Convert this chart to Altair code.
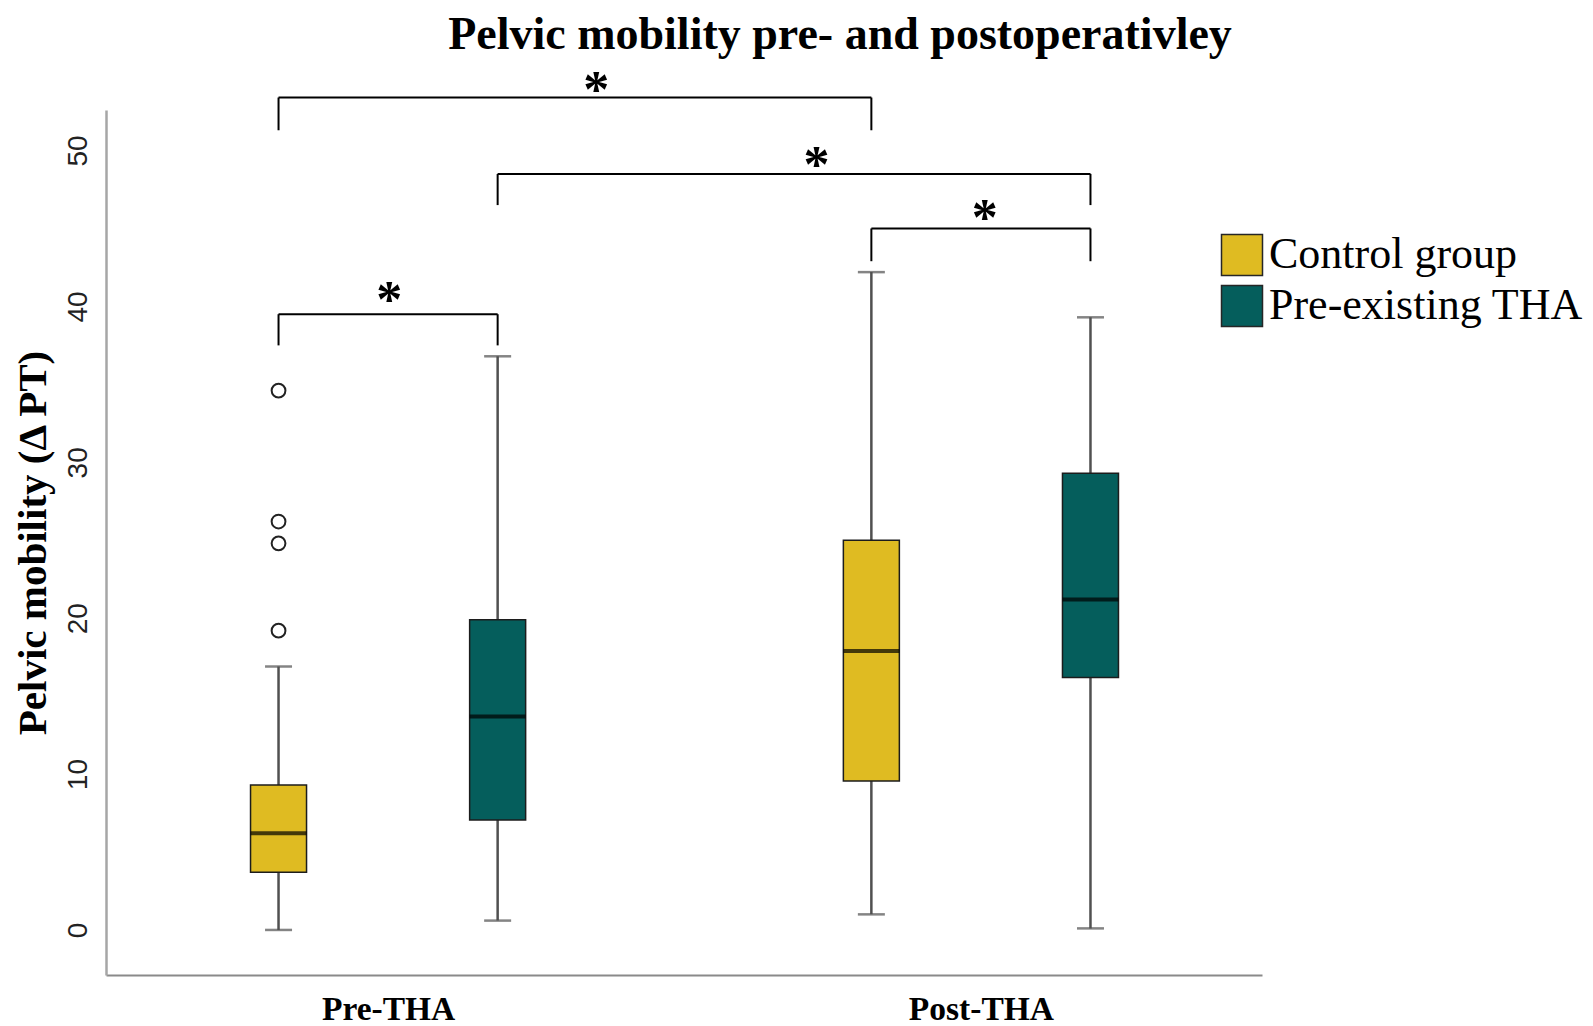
import altair as alt
import pandas as pd

# ---------------- data ----------------
groups = ["Pre-THA", "Post-THA"]
series = ["Control group", "Pre-existing THA"]
colors = ["#DFBB22", "#055E5C"]

box_group = ["Pre-THA", "Pre-THA", "Post-THA", "Post-THA"]
box_series = ["Control group", "Pre-existing THA", "Control group", "Pre-existing THA"]
whisk_low = [0.0, 0.6, 1.0, 0.1]
q1 = [3.7, 7.05, 9.55, 16.2]
median = [6.2, 13.7, 17.9, 21.2]
q3 = [9.3, 19.9, 25.0, 29.3]
whisk_high = [16.9, 36.8, 42.2, 39.3]

out_group = ["Pre-THA", "Pre-THA", "Pre-THA", "Pre-THA"]
out_series = ["Control group"] * 4
out_value = [19.2, 24.8, 26.2, 34.6]

br_from_group = ["Pre-THA", "Pre-THA", "Post-THA", "Pre-THA"]
br_from_series = ["Control group", "Pre-existing THA", "Control group", "Control group"]
br_to_group = ["Post-THA", "Post-THA", "Post-THA", "Pre-THA"]
br_to_series = ["Control group", "Pre-existing THA", "Pre-existing THA", "Pre-existing THA"]
br_top = [53.4, 48.5, 45.0, 39.5]
br_leg = [51.3, 46.5, 42.9, 37.5]
star_y = [54.4, 49.6, 46.2, 40.9]
star_frac = [0.536, 0.538, 0.518, 0.505]
star_text = ["*", "*", "*", "*"]

title_text = "Pelvic mobility pre- and postoperativley"
y_title = "Pelvic mobility (Δ PT)"
y_ticks = [0, 10, 20, 30, 40, 50]

# ---------------- tables ----------------
boxes = pd.DataFrame({
    "group": box_group, "series": box_series,
    "lo": whisk_low, "q1": q1, "med": median, "q3": q3, "hi": whisk_high,
})
outliers = pd.DataFrame({"group": out_group, "series": out_series, "value": out_value})
brackets = pd.DataFrame({
    "g1": br_from_group, "s1": br_from_series,
    "g2": br_to_group, "s2": br_to_series,
    "top": br_top, "leg": br_leg, "sy": star_y, "frac": star_frac, "star": star_text,
})

OFF = 0.1848  # half distance between the two boxes of a group (in group units)


def pos_expr(g, s):
    return (f"indexof({groups!r}, datum.{g}) + "
            f"(indexof({series!r}, datum.{s}) - 0.5) * {2 * OFF}")


x_scale = alt.Scale(domain=[-0.4674, 1.4657], nice=False, zero=False)
y_scale = alt.Scale(domain=[-2.89, 52.6], nice=False, zero=False)
color_scale = alt.Scale(domain=series, range=colors)

label_expr = " : ".join(
    [f"datum.value == {i} ? '{g}'" for i, g in enumerate(groups)] + ["''"]
)

x_axis = alt.Axis(
    values=list(range(len(groups))), labelExpr=label_expr, title=None,
    ticks=False, grid=False, domainColor="#8a8a8a", domainWidth=2,
    labelFont="Liberation Serif", labelFontWeight="bold", labelFontSize=33.5,
    labelColor="#000", labelPadding=18,
)
y_axis = alt.Axis(
    values=y_ticks, title=y_title, ticks=False, grid=False,
    domainColor="#a6a6a6", domainWidth=2.5,
    labelFont="Liberation Sans", labelFontSize=28, labelColor="#222",
    labelAngle=-90, labelPadding=14,
    titleFont="Liberation Serif", titleFontWeight="bold", titleFontSize=41,
    titleColor="#000", titlePadding=10,
)

base_box = alt.Chart(boxes).transform_calculate(xpos=pos_expr("group", "series"))

whiskers = base_box.mark_rule(color="#505050", strokeWidth=2.5).encode(
    x=alt.X("xpos:Q", scale=x_scale, axis=x_axis),
    y=alt.Y("lo:Q", scale=y_scale, axis=y_axis),
    y2="hi:Q",
)
caps_lo = base_box.mark_tick(orient="horizontal", size=27, thickness=2.5, color="#505050").encode(
    x="xpos:Q", y="lo:Q")
caps_hi = base_box.mark_tick(orient="horizontal", size=27, thickness=2.5, color="#505050").encode(
    x="xpos:Q", y="hi:Q")
bars = base_box.mark_bar(size=56, stroke="#1c1c1c", strokeWidth=1.5).encode(
    x="xpos:Q", y="q1:Q", y2="q3:Q",
    color=alt.Color("series:N", scale=color_scale, title=None,
                    legend=alt.Legend(
                        orient="none", legendX=1114, legendY=123,
                        symbolType="square", symbolSize=1681,
                        symbolStrokeColor="#262626", symbolStrokeWidth=1.5,
                        symbolOpacity=1,
                        labelFont="Liberation Serif", labelFontSize=44,
                        labelColor="#000", labelOffset=5, rowPadding=3,
                        labelLimit=600,
                    )),
)
medians = base_box.mark_tick(orient="horizontal", size=56, thickness=4, color="#000").encode(
    x="xpos:Q", y="med:Q")

points = alt.Chart(outliers).transform_calculate(
    xpos=pos_expr("group", "series")
).mark_point(shape="circle", filled=False, size=190, color="#222", strokeWidth=2, opacity=1).encode(
    x="xpos:Q", y="value:Q")

base_br = alt.Chart(brackets).transform_calculate(
    x1=pos_expr("g1", "s1"), x2=pos_expr("g2", "s2")
).transform_calculate(xs="datum.x1 + (datum.x2 - datum.x1) * datum.frac")

br_h = base_br.mark_rule(color="#000", strokeWidth=2).encode(
    x="x1:Q", x2="x2:Q", y="top:Q")
br_l = base_br.mark_rule(color="#000", strokeWidth=2).encode(
    x="x1:Q", y="leg:Q", y2="top:Q")
br_r = base_br.mark_rule(color="#000", strokeWidth=2).encode(
    x="x2:Q", y="leg:Q", y2="top:Q")
stars = base_br.mark_text(
    font="Liberation Serif", fontWeight="bold", fontSize=52, baseline="middle", dy=9,
    color="#000",
).encode(x="xs:Q", y="sy:Q", text="star:N")

chart = alt.layer(
    whiskers, caps_lo, caps_hi, bars, medians, points, br_h, br_l, br_r, stars
).properties(
    width=1156, height=865,
    background="white",
    title=alt.TitleParams(
        title_text, font="Liberation Serif", fontWeight="bold", fontSize=46,
        color="#000", anchor="middle", dx=156, offset=6,
    ),
    padding={"left": 3, "top": 3, "right": 0, "bottom": 0},
).configure_view(stroke=None)

chart.save("out.html", embed_options={"renderer": "svg", "actions": False})
